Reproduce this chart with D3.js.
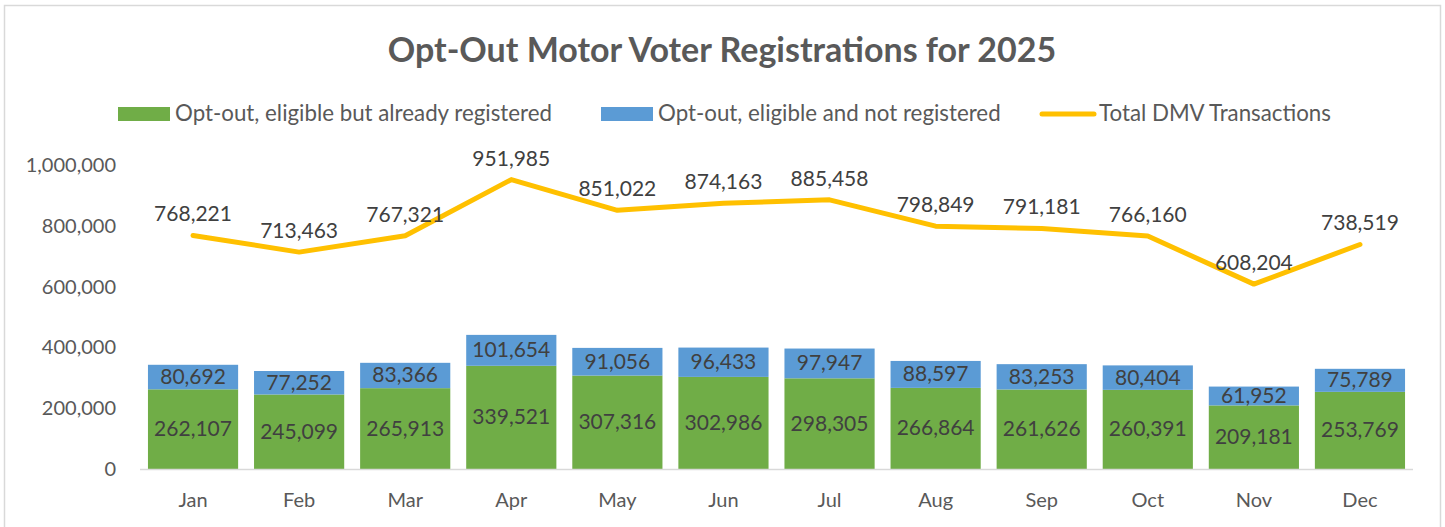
<!DOCTYPE html>
<html>
<head>
<meta charset="utf-8">
<script src="https://cdn.jsdelivr.net/npm/d3@7"></script>
<style>
  body { margin: 0; background: #fff; }
  svg text { font-family: Lato, "Open Sans", sans-serif; }
</style>
</head>
<body>
<svg id="chart"></svg>
<script>
// chart data
const months = ["Jan", "Feb", "Mar", "Apr", "May", "Jun", "Jul", "Aug", "Sep", "Oct", "Nov", "Dec"];
const alreadyRegistered = [262107, 245099, 265913, 339521, 307316, 302986, 298305, 266864, 261626, 260391, 209181, 253769];
const notRegistered = [80692, 77252, 83366, 101654, 91056, 96433, 97947, 88597, 83253, 80404, 61952, 75789];
const totalDMV = [768221, 713463, 767321, 951985, 851022, 874163, 885458, 798849, 791181, 766160, 608204, 738519];
const yTicks = [0, 200000, 400000, 600000, 800000, 1000000];
const seriesNames = ["Opt-out, eligible but already registered", "Opt-out, eligible and not registered", "Total DMV Transactions"];

const width = 1445, height = 527;
const green = "#70AD47", blue = "#5B9BD5", gold = "#FFC000";
const textGray = "#595959", labelGray = "#404040";

const svg = d3.select("#chart").attr("width", width).attr("height", height);

// outer chart border
svg.append("rect")
    .attr("x", 4.5).attr("y", 5.5)
    .attr("width", 1436).attr("height", 530)
    .attr("fill", "#fff").attr("stroke", "#d9d9d9").attr("stroke-width", 1.5);

const plot = {left: 140, right: 1413, top: 165, bottom: 469};

const x = d3.scaleBand()
    .domain(months)
    .range([plot.left, plot.right])
    .paddingInner(0.15)
    .paddingOuter(0.075);

const y = d3.scaleLinear()
    .domain([0, 1000000])
    .range([plot.bottom, plot.top]);

const fmt = d3.format(",");

// title
svg.append("text")
    .attr("x", 722).attr("y", 62)
    .attr("text-anchor", "middle")
    .attr("font-size", 34).attr("font-weight", "bold")
    .attr("fill", textGray)
    .text("Opt-Out Motor Voter Registrations for 2025");

// legend
const legendItems = [
    {name: seriesNames[0], color: green, type: "box", x: 118},
    {name: seriesNames[1], color: blue, type: "box", x: 601},
    {name: seriesNames[2], color: gold, type: "line", x: 1042}
];
const lg = svg.append("g").attr("class", "legend");
legendItems.forEach(d => {
    if (d.type === "box") {
        lg.append("rect").attr("x", d.x).attr("y", 107).attr("width", 52).attr("height", 14).attr("fill", d.color);
    } else {
        lg.append("line").attr("x1", d.x).attr("x2", d.x + 52).attr("y1", 114).attr("y2", 114)
            .attr("stroke", d.color).attr("stroke-width", 5).attr("stroke-linecap", "round");
    }
    lg.append("text")
        .attr("x", d.x + 57).attr("y", 121)
        .attr("font-size", 22.3).attr("fill", textGray)
        .text(d.name);
});

// y axis labels
svg.append("g").selectAll("text")
    .data(yTicks)
    .enter()
    .append("text")
    .attr("x", 116)
    .attr("y", d => y(d) + 7)
    .attr("text-anchor", "end")
    .attr("font-size", 20).attr("fill", textGray)
    .text(d => fmt(d));

// stacked bars
const rows = months.map((m, i) => ({month: m, a: alreadyRegistered[i], b: notRegistered[i]}));
const stack = d3.stack().keys(["a", "b"])(rows);
const colors = [green, blue];

const layers = svg.append("g").selectAll("g")
    .data(stack)
    .enter()
    .append("g")
    .attr("fill", (d, i) => colors[i]);

layers.selectAll("rect")
    .data(d => d)
    .enter()
    .append("rect")
    .attr("x", d => x(d.data.month))
    .attr("y", d => y(d[1]))
    .attr("width", x.bandwidth())
    .attr("height", d => y(d[0]) - y(d[1]));

layers.selectAll("text")
    .data(d => d)
    .enter()
    .append("text")
    .attr("x", d => x(d.data.month) + x.bandwidth() / 2)
    .attr("y", d => (y(d[0]) + y(d[1])) / 2 + 7)
    .attr("text-anchor", "middle")
    .attr("font-size", 21).attr("fill", labelGray)
    .text(d => fmt(d[1] - d[0]));

// baseline
svg.append("line")
    .attr("x1", plot.left).attr("x2", plot.right)
    .attr("y1", plot.bottom + 0.5).attr("y2", plot.bottom + 0.5)
    .attr("stroke", "#d9d9d9").attr("stroke-width", 1.5);

// x labels
svg.append("g").selectAll("text")
    .data(months)
    .enter()
    .append("text")
    .attr("x", d => x(d) + x.bandwidth() / 2)
    .attr("y", 507)
    .attr("text-anchor", "middle")
    .attr("font-size", 20).attr("fill", textGray)
    .text(d => d);

// total line
const line = d3.line()
    .x((d, i) => x(months[i]) + x.bandwidth() / 2)
    .y(d => y(d));

svg.append("path")
    .datum(totalDMV)
    .attr("d", line)
    .attr("fill", "none")
    .attr("stroke", gold)
    .attr("stroke-width", 5)
    .attr("stroke-linejoin", "round")
    .attr("stroke-linecap", "round");

svg.append("g").selectAll("text")
    .data(totalDMV)
    .enter()
    .append("text")
    .attr("x", (d, i) => x(months[i]) + x.bandwidth() / 2)
    .attr("y", d => y(d) - 14)
    .attr("text-anchor", "middle")
    .attr("font-size", 21).attr("fill", labelGray)
    .text(d => fmt(d));
</script>
</body>
</html>
